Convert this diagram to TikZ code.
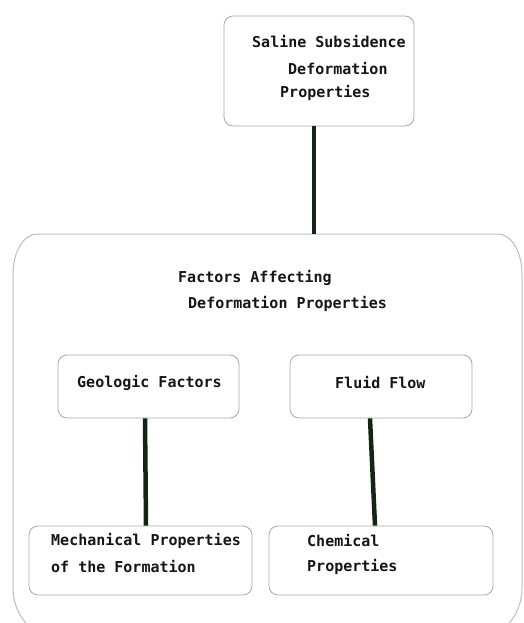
\documentclass[tikz,border=0pt]{standalone}
\usepackage{fontspec}
\setmonofont{DejaVu Sans Mono}
\usetikzlibrary{calc}
\definecolor{boxline}{HTML}{A8A8A8}
\definecolor{bigline}{HTML}{BDBDBD}
\definecolor{conn}{HTML}{152515}
\definecolor{txt}{HTML}{161616}
\begin{document}
\begin{tikzpicture}[x=1pt,y=-1pt,
  box/.style={draw=boxline, line width=0.8pt, rounded corners=9pt, fill=white, inner sep=0pt},
  lbl/.style={anchor=west, inner sep=0pt, text=txt, font=\fontsize{15}{18}\selectfont\ttfamily\bfseries},
  link/.style={draw=conn, line width=4.5pt}]
\useasboundingbox (0,0) rectangle (523,623);
\clip (0,0) rectangle (523,623);
% big container
\draw[bigline, line width=1pt]
  (37,234) -- (498,234)
  arc[start angle=-90, end angle=0, x radius=24, y radius=40]
  -- (522,588)
  arc[start angle=0, end angle=90, x radius=45, y radius=50]
  -- (58,638)
  arc[start angle=90, end angle=180, x radius=45, y radius=50]
  -- (13,274)
  arc[start angle=180, end angle=270, x radius=24, y radius=40];
\coordinate (bigtop) at (314,234);
% boxes
\node[box, minimum width=190pt, minimum height=110pt] (top) at (319,71) {};
\node[box, minimum width=181pt, minimum height=63pt] (geo) at (148.5,386.5) {};
\node[box, minimum width=182pt, minimum height=63pt] (fluid) at (381,386.5) {};
\node[box, minimum width=223pt, minimum height=69pt] (mech) at (140.5,560.5) {};
\node[box, minimum width=224pt, minimum height=69pt] (chem) at (381,560.5) {};
% connectors
\draw[link] ([xshift=-5pt]top.south) -- (bigtop);
\draw[link] ([xshift=-3.5pt]geo.south) -- ([xshift=5.5pt]mech.north);
\draw[link] ([xshift=-11pt]fluid.south) -- ([xshift=-6pt]chem.north);
% texts
\node[lbl] (t1) at (252,42) {Saline Subsidence};
\node[lbl] (t2) at (288,69) {Deformation};
\node[lbl] (t3) at (280,93) {Properties};
\node[lbl] (f1) at (178,278) {Factors Affecting};
\node[lbl] (f2) at (188,304) {Deformation Properties};
\node[lbl] (g1) at (77,383) {Geologic Factors};
\node[lbl] (fl1) at (335,383) {Fluid Flow};
\node[lbl] (m1) at (51,541) {Mechanical Properties};
\node[lbl] (m2) at (51,567) {of the Formation};
\node[lbl] (c1) at (307,541) {Chemical};
\node[lbl] (c2) at (307,567) {Properties};
\end{tikzpicture}
\end{document}
